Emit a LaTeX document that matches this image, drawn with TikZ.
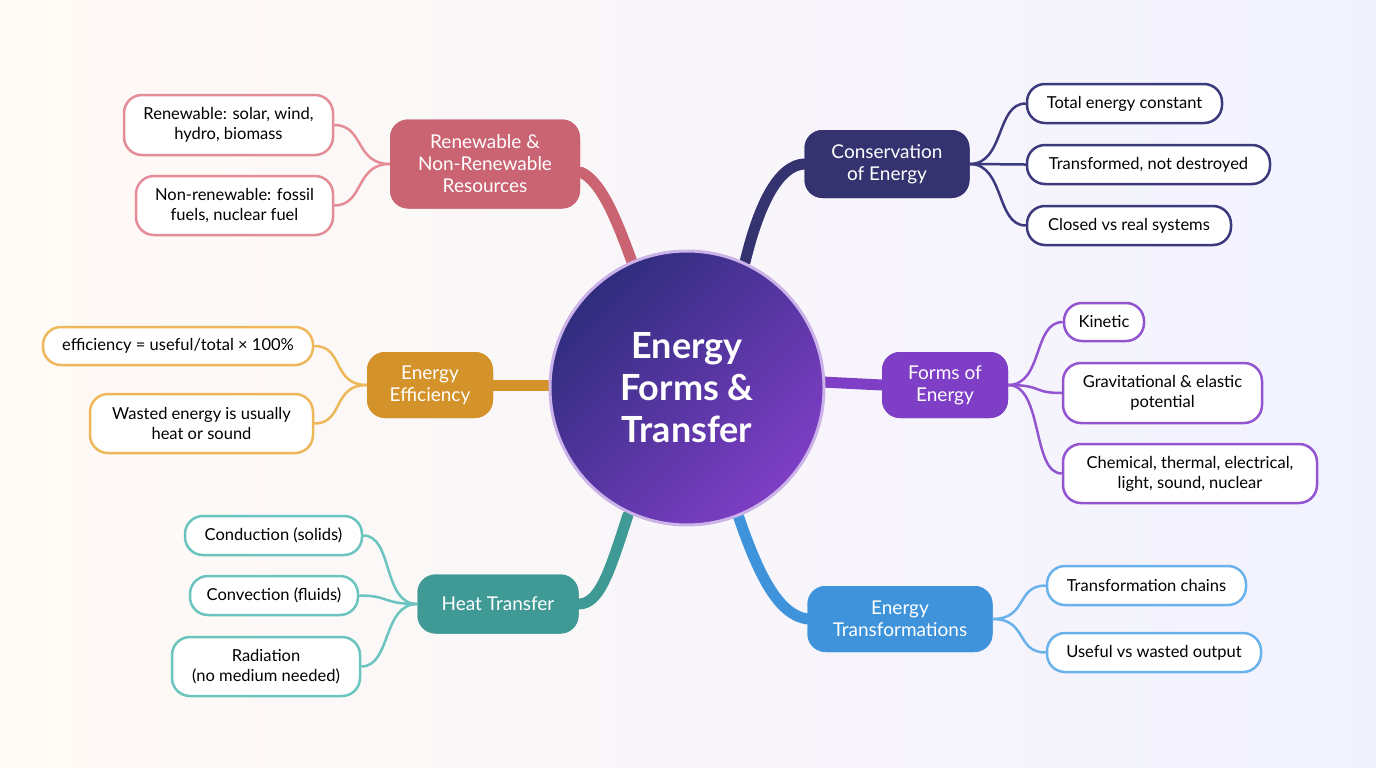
\documentclass[tikz,border=0pt]{standalone}
\usepackage{fontspec}
\setmainfont{Lato}
\begin{document}
\begin{tikzpicture}[x=1pt,y=-1pt,
  main/.style={rounded corners=18pt, fill=#1, text=white, align=center, font=\fontsize{19}{22}\selectfont, inner sep=0pt},
  leaf/.style={rounded corners=18pt, draw=#1, line width=2.5pt, fill=white, align=center, font=\fontsize{16.5}{20}\selectfont, inner sep=0pt},
  br/.style={draw=#1, line width=11pt, line cap=round},
  lk/.style={draw=#1, line width=2.5pt}]
\definecolor{cnav}{HTML}{34326F}
\definecolor{cpur}{HTML}{7E3EC5}
\definecolor{cblu}{HTML}{3E93DA}
\definecolor{ctea}{HTML}{3F9A95}
\definecolor{cora}{HTML}{D4922A}
\definecolor{cros}{HTML}{CA6473}
\definecolor{lnav}{HTML}{3C3A7C}
\definecolor{lpur}{HTML}{9354D0}
\definecolor{lblu}{HTML}{6AB2EC}
\definecolor{ltea}{HTML}{6BC4BE}
\definecolor{lora}{HTML}{EDB75A}
\definecolor{lros}{HTML}{E48D98}
\fill[left color=white!96!orange, right color=white!95!blue] (0,0) rectangle (1376,768);
\useasboundingbox (0,0) rectangle (1376,768);
\coordinate (b1) at (632,262); \coordinate (b2) at (745,262);
\coordinate (b3) at (822,382); \coordinate (b4) at (738,515);
\coordinate (b5) at (628,515); \coordinate (b6) at (552,385);
\node[main=cros, minimum width=190pt, minimum height=89pt] (ren) at (485,164) {};
\node[main=cnav, minimum width=165pt, minimum height=68pt] (con) at (887,164) {};
\node[main=cpur, minimum width=126pt, minimum height=66pt] (for) at (945,385) {};
\node[main=cblu, minimum width=185pt, minimum height=66pt] (tra) at (900,619) {};
\node[main=ctea, minimum width=161pt, minimum height=59pt] (hea) at (498,604) {};
\node[main=cora, minimum width=126pt, minimum height=66pt] (eff) at (430,385) {};
\draw[br=cros] (b1) .. controls (615,215) and (600,180) .. (ren.east|-0,172);
\draw[br=cnav] (b2) .. controls (760,200) and (780,165) .. (con.west);
\draw[br=cpur] (b3) -- (for.west);
\draw[br=cblu] (b4) .. controls (760,580) and (780,615) .. (tra.west);
\draw[br=ctea] (b5) .. controls (610,570) and (600,604) .. (hea.east);
\draw[br=cora] (b6) -- (eff.east);
\node[main=cros, minimum width=190pt, minimum height=89pt] at (485,164) {Renewable \&\\Non-Renewable\\Resources};
\node[main=cnav, minimum width=165pt, minimum height=68pt] at (887,164) {Conservation\\of Energy};
\node[main=cpur, minimum width=126pt, minimum height=66pt] at (945,385) {Forms of\\Energy};
\node[main=cblu, minimum width=185pt, minimum height=66pt] at (900,619) {Energy\\Transformations};
\node[main=ctea, minimum width=161pt, minimum height=59pt] at (498,604) {Heat Transfer};
\node[main=cora, minimum width=126pt, minimum height=66pt] at (430,385) {Energy\\Efficiency};
\node[circle, minimum size=274pt, draw=white!60!cpur, line width=3pt, shading=axis, left color=cnav!90!blue, right color=cpur, shading angle=45, text=white, align=center, font=\fontsize{36}{42}\selectfont\bfseries] (c) at (687,388) {Energy\\Forms \&\\Transfer};
\node[leaf=lnav, minimum width=195pt, minimum height=39pt] (c1) at (1124.5,103.5) {Total energy constant};
\node[leaf=lnav, minimum width=243pt, minimum height=39pt] (c2) at (1148.5,164.5) {Transformed, not destroyed};
\node[leaf=lnav, minimum width=204pt, minimum height=39pt] (c3) at (1129,225.5) {Closed vs real systems};
\node[leaf=lpur, minimum width=80pt, minimum height=38pt] (f1) at (1104,322) {Kinetic};
\node[leaf=lpur, minimum width=199pt, minimum height=60pt] (f2) at (1162.5,393) {Gravitational \& elastic\\potential};
\node[leaf=lpur, minimum width=254pt, minimum height=59pt] (f3) at (1190,473.5) {Chemical, thermal, electrical,\\light, sound, nuclear};
\node[leaf=lblu, minimum width=199pt, minimum height=39pt] (t1) at (1146.5,585.5) {Transformation chains};
\node[leaf=lblu, minimum width=214pt, minimum height=39pt] (t2) at (1154,652.5) {Useful vs wasted output};
\node[leaf=ltea, minimum width=177pt, minimum height=39pt] (h1) at (273.5,535.5) {Conduction (solids)};
\node[leaf=ltea, minimum width=168pt, minimum height=39pt] (h2) at (274,595.5) {Convection (fluids)};
\node[leaf=ltea, minimum width=188pt, minimum height=59pt] (h3) at (266,666.5) {Radiation\\(no medium needed)};
\node[leaf=lora, minimum width=270pt, minimum height=38pt] (e1) at (178,346) {efficiency = useful/total × 100\%};
\node[leaf=lora, minimum width=223pt, minimum height=59pt] (e2) at (201.5,423.5) {Wasted energy is usually\\heat or sound};
\node[leaf=lros, minimum width=209pt, minimum height=60pt] (r1) at (228.5,125) {Renewable: solar, wind,\\hydro, biomass};
\node[leaf=lros, minimum width=197pt, minimum height=59pt] (r2) at (234.5,205.5) {Non-renewable: fossil\\fuels, nuclear fuel};
\foreach \l in {c1,c2,c3} \draw[lk=lnav] (con.east) .. controls +(35,0) and +(-30,0) .. (\l.west);
\foreach \l in {f1,f2,f3} \draw[lk=lpur] (for.east) .. controls +(35,0) and +(-30,0) .. (\l.west);
\foreach \l in {t1,t2} \draw[lk=lblu] (tra.east) .. controls +(35,0) and +(-30,0) .. (\l.west);
\foreach \l in {h1,h2,h3} \draw[lk=ltea] (hea.west) .. controls +(-35,0) and +(30,0) .. (\l.east);
\foreach \l in {e1,e2} \draw[lk=lora] (eff.west) .. controls +(-35,0) and +(30,0) .. (\l.east);
\foreach \l in {r1,r2} \draw[lk=lros] (ren.west) .. controls +(-35,0) and +(30,0) .. (\l.east);
\end{tikzpicture}
\end{document}
